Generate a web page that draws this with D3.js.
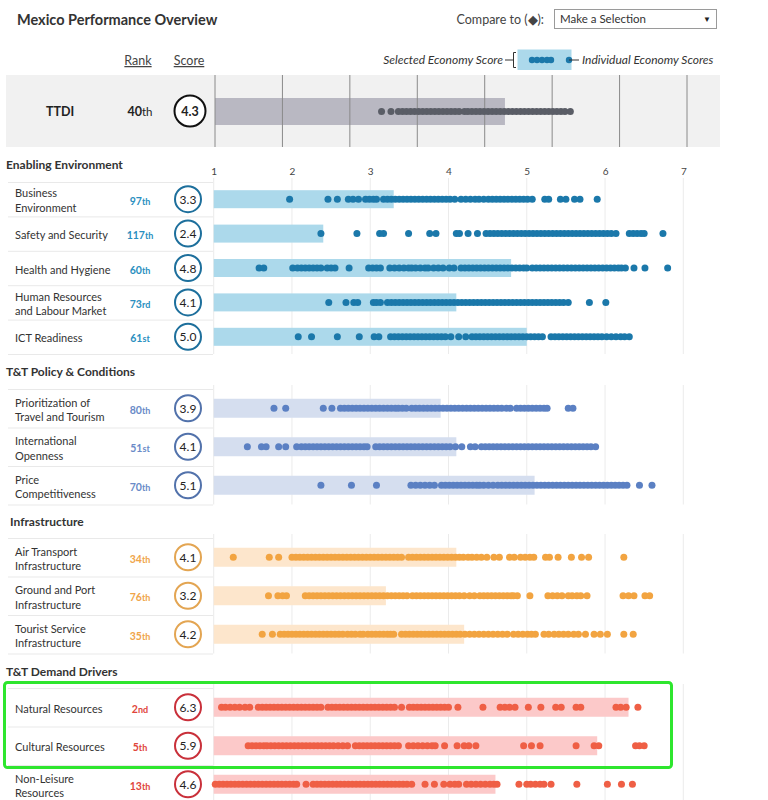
<!DOCTYPE html>
<html>
<head>
<meta charset="utf-8">
<script src="https://cdn.jsdelivr.net/npm/d3@7"></script>
<style>
  body { margin: 0; background: #fff; }
  svg { font-family: Lato, "Open Sans", sans-serif; }
</style>
</head>
<body>
<script>
// ---- data ----
var sectionNames = ["Enabling Environment", "T&T Policy & Conditions", "Infrastructure", "T&T Demand Drivers"];

var pillarNames = [
  ["Business", "Environment"], ["Safety and Security"], ["Health and Hygiene"],
  ["Human Resources", "and Labour Market"], ["ICT Readiness"],
  ["Prioritization of", "Travel and Tourism"], ["International", "Openness"], ["Price", "Competitiveness"],
  ["Air Transport", "Infrastructure"], ["Ground and Port", "Infrastructure"], ["Tourist Service", "Infrastructure"],
  ["Natural Resources"], ["Cultural Resources"], ["Non-Leisure", "Resources"]
];
var pillarSection = [0, 0, 0, 0, 0, 1, 1, 1, 2, 2, 2, 3, 3, 3];
var rankNums = ["97", "117", "60", "73", "61", "80", "51", "70", "34", "76", "35", "2", "5", "13"];
var rankSuffix = ["th", "th", "th", "rd", "st", "th", "st", "th", "th", "th", "th", "nd", "th", "th"];
var scores = [3.3, 2.4, 4.8, 4.1, 5.0, 3.9, 4.1, 5.1, 4.1, 3.2, 4.2, 6.3, 5.9, 4.6];

var ttdiRank = "40", ttdiSuffix = "th", ttdiScore = 4.3;
var ttdiDots = [2.47, 2.61, 2.72, 2.78, 2.84, 2.90, 2.96, 3.02, 3.08, 3.14, 3.20, 3.26, 3.32, 3.38, 3.44, 3.50,
  3.56, 3.62, 3.70, 3.75, 3.81, 3.87, 3.93, 3.99, 4.05, 4.11, 4.17, 4.23, 4.29, 4.35, 4.41, 4.47, 4.53, 4.59,
  4.65, 4.71, 4.77, 4.83, 4.89, 4.95, 5.01, 5.07, 5.13, 5.19, 5.27];

var dotsBusiness = [1.97, 2.46, 2.58, 2.72, 2.78, 2.85, 2.94, 2.99, 3.04, 3.08, 3.17, 3.22, 3.27, 3.32, 3.37, 3.42,
  3.47, 3.52, 3.57, 3.62, 3.67, 3.72, 3.77, 3.82, 3.87, 3.92, 3.97, 4.02, 4.08, 4.16, 4.22, 4.28, 4.34, 4.39, 4.45,
  4.51, 4.56, 4.61, 4.66, 4.71, 4.76, 4.81, 4.86, 4.91, 4.96, 5.01, 5.07, 5.23, 5.28, 5.43, 5.50, 5.61, 5.68, 5.90];
var dotsSafety = [2.37, 2.83, 3.12, 3.17, 3.49, 3.76, 3.84, 4.10, 4.14, 4.25, 4.37, 4.48, 4.53, 4.58, 4.63, 4.68,
  4.73, 4.78, 4.83, 4.88, 4.93, 4.98, 5.03, 5.08, 5.13, 5.18, 5.23, 5.28, 5.33, 5.38, 5.43, 5.48, 5.53, 5.58, 5.63,
  5.68, 5.73, 5.78, 5.83, 5.88, 5.93, 5.98, 6.03, 6.08, 6.14, 6.31, 6.36, 6.41, 6.46, 6.50, 6.74];
var dotsHealth = [1.58, 1.64, 2.01, 2.07, 2.12, 2.17, 2.22, 2.27, 2.32, 2.37, 2.45, 2.50, 2.55, 2.73, 2.98, 3.03,
  3.08, 3.13, 3.25, 3.31, 3.37, 3.43, 3.49, 3.53, 3.58, 3.64, 3.70, 3.74, 3.81, 3.87, 3.93, 4.01, 4.07, 4.16, 4.21,
  4.26, 4.31, 4.36, 4.41, 4.46, 4.51, 4.56, 4.61, 4.66, 4.71, 4.76, 4.81, 4.86, 4.91, 4.96, 5.00, 5.07, 5.12, 5.17,
  5.22, 5.27, 5.32, 5.37, 5.42, 5.47, 5.52, 5.57, 5.62, 5.67, 5.72, 5.77, 5.82, 5.87, 5.92, 5.97, 6.02, 6.07, 6.12,
  6.17, 6.21, 6.26, 6.37, 6.51, 6.80];
var dotsHuman = [2.47, 2.69, 2.79, 2.84, 3.04, 3.08, 3.13, 3.22, 3.27, 3.32, 3.37, 3.42, 3.47, 3.52, 3.57, 3.62,
  3.67, 3.72, 3.77, 3.82, 3.87, 3.92, 3.97, 4.02, 4.07, 4.12, 4.17, 4.22, 4.27, 4.32, 4.37, 4.42, 4.47, 4.52, 4.57,
  4.62, 4.67, 4.72, 4.77, 4.82, 4.87, 4.92, 4.97, 5.02, 5.07, 5.12, 5.17, 5.22, 5.27, 5.32, 5.37, 5.42, 5.47, 5.53,
  5.80, 6.01];
var dotsICT = [2.08, 2.25, 2.58, 2.86, 3.05, 3.11, 3.26, 3.31, 3.36, 3.41, 3.46, 3.51, 3.56, 3.61, 3.66, 3.71, 3.76,
  3.81, 3.86, 3.91, 3.96, 4.03, 4.13, 4.22, 4.30, 4.35, 4.40, 4.45, 4.50, 4.55, 4.60, 4.65, 4.70, 4.75, 4.80, 4.85,
  4.90, 4.95, 5.00, 5.05, 5.10, 5.15, 5.20, 5.31, 5.36, 5.41, 5.46, 5.51, 5.56, 5.61, 5.66, 5.71, 5.76, 5.81, 5.86,
  5.91, 5.96, 6.02, 6.08, 6.14, 6.20, 6.25, 6.31];
var dotsPrioritization = [1.77, 1.92, 2.40, 2.51, 2.62, 2.67, 2.72, 2.77, 2.82, 2.87, 2.92, 2.97, 3.02, 3.07, 3.12,
  3.17, 3.22, 3.27, 3.32, 3.36, 3.41, 3.46, 3.53, 3.58, 3.63, 3.68, 3.73, 3.78, 3.83, 3.88, 3.93, 3.98, 4.03, 4.08,
  4.13, 4.18, 4.23, 4.28, 4.33, 4.38, 4.43, 4.48, 4.53, 4.58, 4.63, 4.68, 4.74, 4.79, 4.87, 4.92, 4.97, 5.02, 5.07,
  5.12, 5.17, 5.22, 5.26, 5.53, 5.59];
var dotsOpenness = [1.43, 1.61, 1.67, 1.83, 1.92, 2.06, 2.12, 2.17, 2.22, 2.27, 2.32, 2.37, 2.42, 2.47, 2.52, 2.57,
  2.62, 2.67, 2.72, 2.77, 2.82, 2.87, 2.92, 2.96, 3.07, 3.12, 3.17, 3.22, 3.27, 3.32, 3.37, 3.42, 3.47, 3.52, 3.57,
  3.62, 3.67, 3.72, 3.77, 3.82, 3.87, 3.92, 3.97, 4.02, 4.09, 4.17, 4.28, 4.34, 4.42, 4.47, 4.52, 4.57, 4.62, 4.67,
  4.72, 4.77, 4.82, 4.87, 4.92, 4.97, 5.02, 5.07, 5.12, 5.17, 5.22, 5.27, 5.32, 5.37, 5.42, 5.47, 5.52, 5.57, 5.62,
  5.67, 5.72, 5.77, 5.82, 5.88];
var dotsPrice = [2.37, 2.76, 3.08, 3.52, 3.58, 3.64, 3.70, 3.76, 3.82, 3.91, 3.96, 4.01, 4.06, 4.11, 4.16, 4.21, 4.26,
  4.31, 4.36, 4.40, 4.45, 4.51, 4.57, 4.63, 4.68, 4.73, 4.78, 4.83, 4.88, 4.93, 4.98, 5.03, 5.08, 5.13, 5.18, 5.23,
  5.28, 5.33, 5.38, 5.43, 5.48, 5.53, 5.58, 5.63, 5.68, 5.73, 5.78, 5.83, 5.88, 5.93, 5.98, 6.03, 6.08, 6.13, 6.18,
  6.23, 6.28, 6.44, 6.60];
var dotsAir = [1.25, 1.71, 1.83, 2.00, 2.05, 2.10, 2.15, 2.20, 2.25, 2.30, 2.35, 2.40, 2.45, 2.50, 2.55, 2.60, 2.65,
  2.70, 2.75, 2.80, 2.85, 2.90, 2.95, 3.00, 3.05, 3.10, 3.15, 3.20, 3.25, 3.30, 3.35, 3.40, 3.49, 3.54, 3.59, 3.64,
  3.69, 3.74, 3.79, 3.84, 3.89, 3.94, 3.99, 4.04, 4.09, 4.14, 4.19, 4.25, 4.30, 4.36, 4.42, 4.49, 4.58, 4.65, 4.78,
  4.84, 4.92, 4.98, 5.04, 5.09, 5.24, 5.29, 5.40, 5.57, 5.70, 5.79, 6.24];
var dotsGround = [1.70, 1.82, 1.88, 1.93, 2.17, 2.22, 2.27, 2.32, 2.37, 2.42, 2.47, 2.52, 2.57, 2.62, 2.67, 2.72,
  2.77, 2.82, 2.87, 2.92, 2.97, 3.02, 3.07, 3.12, 3.17, 3.22, 3.27, 3.32, 3.37, 3.42, 3.47, 3.54, 3.59, 3.64, 3.69,
  3.74, 3.79, 3.84, 3.89, 3.94, 3.99, 4.04, 4.09, 4.14, 4.20, 4.27, 4.33, 4.40, 4.45, 4.50, 4.55, 4.60, 4.65, 4.70,
  4.75, 4.80, 4.83, 4.88, 5.04, 5.27, 5.33, 5.39, 5.45, 5.53, 5.58, 5.64, 5.69, 5.77, 6.23, 6.30, 6.37, 6.51, 6.57];
var dotsTourist = [1.62, 1.75, 1.85, 1.90, 1.95, 2.00, 2.05, 2.10, 2.15, 2.20, 2.25, 2.30, 2.35, 2.40, 2.45, 2.50,
  2.55, 2.60, 2.65, 2.71, 2.76, 2.81, 2.87, 2.91, 2.97, 3.02, 3.07, 3.12, 3.17, 3.22, 3.26, 3.30, 3.40, 3.45, 3.50,
  3.55, 3.60, 3.65, 3.70, 3.75, 3.80, 3.85, 3.90, 3.95, 4.00, 4.05, 4.10, 4.15, 4.21, 4.27, 4.33, 4.39, 4.45, 4.51,
  4.57, 4.63, 4.69, 4.75, 4.83, 4.89, 4.95, 5.01, 5.06, 5.11, 5.22, 5.28, 5.35, 5.41, 5.47, 5.53, 5.60, 5.66, 5.75,
  5.86, 5.94, 6.03, 6.24, 6.36];
var dotsNatural = [1.10, 1.15, 1.21, 1.27, 1.33, 1.40, 1.46, 1.57, 1.62, 1.67, 1.72, 1.77, 1.82, 1.87, 1.92, 1.97,
  2.02, 2.07, 2.12, 2.17, 2.22, 2.27, 2.32, 2.37, 2.46, 2.51, 2.56, 2.61, 2.66, 2.71, 2.76, 2.81, 2.86, 2.91, 2.96,
  3.01, 3.06, 3.11, 3.16, 3.21, 3.26, 3.31, 3.40, 3.50, 3.55, 3.60, 3.65, 3.70, 3.75, 3.80, 3.85, 3.90, 3.95, 4.00,
  4.12, 4.44, 4.66, 4.72, 4.78, 4.85, 5.02, 5.18, 5.37, 5.44, 5.63, 5.69, 6.14, 6.20, 6.27, 6.42];
var dotsCultural = [1.44, 1.49, 1.54, 1.59, 1.64, 1.68, 1.73, 1.78, 1.83, 1.88, 1.93, 1.98, 2.03, 2.08, 2.13, 2.18,
  2.23, 2.28, 2.33, 2.38, 2.43, 2.48, 2.53, 2.59, 2.65, 2.71, 2.81, 2.86, 2.91, 2.96, 3.01, 3.06, 3.11, 3.16, 3.21,
  3.26, 3.31, 3.36, 3.49, 3.55, 3.61, 3.67, 3.73, 3.79, 3.83, 3.95, 4.11, 4.20, 4.26, 4.35, 4.96, 5.06, 5.17, 5.63,
  5.86, 5.92, 6.39, 6.44, 6.50];
var dotsNonLeisure = [1.02, 1.07, 1.12, 1.17, 1.22, 1.27, 1.32, 1.37, 1.42, 1.47, 1.52, 1.57, 1.62, 1.67, 1.72, 1.77,
  1.82, 1.87, 1.92, 1.97, 2.02, 2.06, 2.18, 2.27, 2.32, 2.37, 2.42, 2.47, 2.52, 2.57, 2.62, 2.67, 2.72, 2.77, 2.82,
  2.87, 2.92, 2.97, 3.02, 3.07, 3.12, 3.17, 3.22, 3.27, 3.32, 3.37, 3.42, 3.47, 3.53, 3.70, 3.82, 3.94, 4.02, 4.08,
  4.13, 4.23, 4.29, 4.35, 4.41, 4.47, 4.53, 4.58, 4.62, 4.90, 5.00, 5.05, 5.11, 5.17, 5.22, 5.31, 5.64, 6.03, 6.21, 6.35];

var pillarDots = [dotsBusiness, dotsSafety, dotsHealth, dotsHuman, dotsICT, dotsPrioritization, dotsOpenness,
  dotsPrice, dotsAir, dotsGround, dotsTourist, dotsNatural, dotsCultural, dotsNonLeisure];

var axisTicks = [1, 2, 3, 4, 5, 6, 7];
var ttdiTicks = [0, 1, 2, 3, 4, 5, 6, 7];

// ---- styling / layout ----
var dotColor  = ["#1b78aa", "#5b80c3", "#f2a441", "#ef5f45"];
var barColor  = ["#acd9eb", "#d5deef", "#fde6cc", "#fcc9c9"];
var rankColor = ["#2a8fc0", "#6a8bc8", "#f0a54a", "#e0453c"];
var ringColor = ["#1d6f9c", "#5272ab", "#e3a552", "#c9303a"];
var secLayout = [
  {head: 165, hx: 6,  top: 182, rowH: 34.4, barH: 18},
  {head: 372, hx: 6,  top: 389, rowH: 38.5, barH: 19},
  {head: 522, hx: 10, top: 538, rowH: 38.5, barH: 19},
  {head: 672, hx: 6,  top: 688, rowH: 38.5, barH: 19}
];

var x = d3.scaleLinear().domain([1, 7]).range([213.7, 683.3]);
var xT = d3.scaleLinear().domain([0, 7]).range([215, 687]);

var svg = d3.select("body").append("svg")
  .attr("width", 768)
  .attr("height", 800);

// title + selector
svg.append("text").attr("x", 17).attr("y", 25)
  .attr("font-size", 14.5).attr("font-weight", "bold").attr("fill", "#333")
  .text("Mexico Performance Overview");

svg.append("text").attr("x", 544).attr("y", 24).attr("text-anchor", "end")
  .attr("font-size", 12.5).attr("fill", "#444").text("Compare to (\u25C6):");
svg.append("rect").attr("x", 554.5).attr("y", 9.5).attr("width", 162).attr("height", 19)
  .attr("fill", "#fff").attr("stroke", "#9a9a9a");
svg.append("text").attr("x", 560).attr("y", 23).attr("font-size", 11.5).attr("fill", "#333")
  .text("Make a Selection");
svg.append("text").attr("x", 707).attr("y", 22).attr("text-anchor", "middle").attr("font-size", 8)
  .attr("fill", "#222").text("\u25BC");

// column headers
[["Rank", 138], ["Score", 189]].forEach(function(h) {
  svg.append("text").attr("x", h[1]).attr("y", 65).attr("text-anchor", "middle")
    .attr("font-size", 12.5).attr("fill", "#444").attr("text-decoration", "underline").text(h[0]);
});

// legend
var lg = svg.append("g");
lg.append("text").attr("x", 503).attr("y", 64).attr("text-anchor", "end")
  .attr("font-size", 12).attr("font-style", "italic").attr("fill", "#333").text("Selected Economy Score");
lg.append("path").attr("d", "M505,60H513M513.5,52.5V67.5M513.5,52.5H516M513.5,67.5H516")
  .attr("stroke", "#333").attr("fill", "none");
lg.append("rect").attr("x", 517.5).attr("y", 49.5).attr("width", 54).attr("height", 20.5).attr("fill", barColor[0]);
lg.selectAll("circle").data([532, 537, 542, 547, 551, 569]).enter().append("circle")
  .attr("cx", d => d).attr("cy", 60).attr("r", 3.2).attr("fill", dotColor[0]);
lg.append("line").attr("x1", 569).attr("x2", 579).attr("y1", 60).attr("y2", 60).attr("stroke", "#333");
lg.append("text").attr("x", 582).attr("y", 64)
  .attr("font-size", 12).attr("font-style", "italic").attr("fill", "#333").text("Individual Economy Scores");

// TTDI overall row
var tt = svg.append("g");
tt.append("rect").attr("x", 6).attr("y", 75).attr("width", 714).attr("height", 72).attr("fill", "#f1f1f1");
tt.append("rect").attr("x", xT(0)).attr("y", 98).attr("width", xT(ttdiScore) - xT(0)).attr("height", 27)
  .attr("fill", "#b9b8c2");
tt.selectAll("line.g").data(ttdiTicks).enter().append("line")
  .attr("x1", d => xT(d)).attr("x2", d => xT(d)).attr("y1", 75).attr("y2", 147)
  .attr("stroke", "#8a8a8a").attr("stroke-width", 1);
tt.selectAll("circle.d").data(ttdiDots).enter().append("circle")
  .attr("cx", d => xT(d)).attr("cy", 111.5).attr("r", 3.5).attr("fill", "#5a5d66");
tt.append("text").attr("x", 60).attr("y", 116).attr("text-anchor", "middle")
  .attr("font-size", 12.5).attr("font-weight", "bold").attr("fill", "#222").text("TTDI");
var tr = tt.append("text").attr("x", 140).attr("y", 116).attr("text-anchor", "middle").attr("fill", "#222");
tr.append("tspan").attr("font-size", 12.5).attr("font-weight", "bold").text(ttdiRank);
tr.append("tspan").attr("font-size", 11.5).text(ttdiSuffix);
tt.append("circle").attr("cx", 190).attr("cy", 111).attr("r", 15.5)
  .attr("fill", "#fff").attr("stroke", "#111").attr("stroke-width", 2);
tt.append("text").attr("x", 190).attr("y", 115.5).attr("text-anchor", "middle")
  .attr("font-size", 12.5).attr("font-weight", "bold").attr("fill", "#222").text(ttdiScore.toFixed(1));

// axis tick labels (only above the first section)
var ax = svg.append("g").attr("transform", "translate(0,175)")
  .call(d3.axisTop(x).tickValues(axisTicks).tickSize(0).tickPadding(0).tickFormat(d3.format("d")));
ax.select(".domain").remove();
ax.selectAll("text").attr("font-family", "Lato, sans-serif").attr("font-size", 10).attr("fill", "#444");

// sections
sectionNames.forEach(function(name, s) {
  var L = secLayout[s];
  var idx = d3.range(pillarNames.length).filter(i => pillarSection[i] === s);
  var g = svg.append("g");
  var bottom = L.top + idx.length * L.rowH;

  g.append("text").attr("x", L.hx).attr("y", L.head + 4)
    .attr("font-size", 12).attr("font-weight", "bold").attr("fill", "#333").text(name);

  g.selectAll("line.grid").data(axisTicks).enter().append("line")
    .attr("x1", d => x(d)).attr("x2", d => x(d)).attr("y1", L.top - 4).attr("y2", bottom)
    .attr("stroke", "#ebebeb");

  g.selectAll("line.sep").data(d3.range(idx.length + 1)).enter().append("line")
    .attr("x1", 8).attr("x2", 213).attr("y1", k => L.top + k * L.rowH + 0.5).attr("y2", k => L.top + k * L.rowH + 0.5)
    .attr("stroke", "#e9e9e9");

  idx.forEach(function(p, k) {
    var cy = L.top + (k + 0.5) * L.rowH;
    g.append("rect").attr("x", x(1)).attr("y", cy - L.barH / 2)
      .attr("width", x(scores[p]) - x(1)).attr("height", L.barH).attr("fill", barColor[s]);
    g.selectAll("circle.p" + p).data(pillarDots[p]).enter().append("circle")
      .attr("cx", d => x(d)).attr("cy", cy).attr("r", 3.5).attr("fill", dotColor[s]);

    var lines = pillarNames[p];
    lines.forEach(function(t, j) {
      g.append("text").attr("x", 15).attr("y", cy + 5.5 + (j - (lines.length - 1) / 2) * 14.5)
        .attr("font-size", 11).attr("fill", "#333").text(t);
    });

    var rt = g.append("text").attr("x", 140).attr("y", cy + 5.5).attr("text-anchor", "middle").attr("fill", rankColor[s]);
    rt.append("tspan").attr("font-size", 10.5).attr("font-weight", "bold").text(rankNums[p]);
    rt.append("tspan").attr("font-size", 9).attr("font-weight", "bold").text(rankSuffix[p]);

    g.append("circle").attr("cx", 188).attr("cy", cy).attr("r", 13)
      .attr("fill", "#fff").attr("stroke", ringColor[s]).attr("stroke-width", 2);
    g.append("text").attr("x", 188).attr("y", cy + 4.5).attr("text-anchor", "middle")
      .attr("font-size", 12).attr("fill", "#222").text(scores[p].toFixed(1));
  });
});

// green highlight round the two top demand drivers
svg.append("rect").attr("x", 4.5).attr("y", 682.5).attr("width", 667).attr("height", 85).attr("rx", 3)
  .attr("fill", "none").attr("stroke", "#2ee62e").attr("stroke-width", 3);
</script>
</body>
</html>
